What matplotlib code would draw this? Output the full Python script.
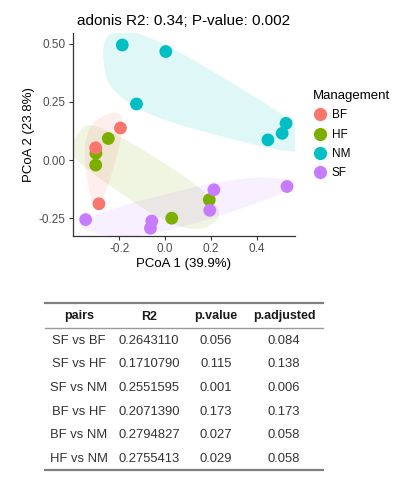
import numpy as np
import matplotlib
matplotlib.use("Agg")
import matplotlib.pyplot as plt
from matplotlib.patches import Polygon

plt.rcParams['font.family'] = ['Liberation Sans', 'DejaVu Sans']

# PCoA scores per management group
groups = ["BF", "HF", "NM", "SF"]
colors = {"BF": "#F8766D", "HF": "#7CAE00", "NM": "#00BFC4", "SF": "#C77CFF"}
bf_x = [-0.195, -0.303, -0.289]
bf_y = [0.138, 0.053, -0.187]
hf_x = [-0.248, -0.302, -0.303, 0.193, 0.029]
hf_y = [0.093, 0.030, -0.021, -0.170, -0.249]
nm_x = [-0.187, 0.003, -0.125, 0.528, 0.511, 0.449]
nm_y = [0.494, 0.466, 0.241, 0.158, 0.115, 0.087]
sf_x = [0.213, 0.532, 0.195, -0.058, -0.064, -0.347]
sf_y = [-0.127, -0.113, -0.215, -0.261, -0.292, -0.255]
coords = {"BF": (bf_x, bf_y), "HF": (hf_x, hf_y), "NM": (nm_x, nm_y), "SF": (sf_x, sf_y)}
draw_order = ["HF", "BF", "NM", "SF"]

title = "adonis R2: 0.34; P-value: 0.002"
xlabel = "PCoA 1 (39.9%)"
ylabel = "PCoA 2 (23.8%)"
xticks = [-0.2, 0.0, 0.2, 0.4]
xticklabels = ["-0.2", "0.0", "0.2", "0.4"]
yticks = [-0.25, 0.0, 0.25, 0.50]
yticklabels = ["-0.25", "0.00", "0.25", "0.50"]

# pairwise adonis table
tab_cols = ["pairs", "R2", "p.value", "p.adjusted"]
pairs = ["SF vs BF", "SF vs HF", "SF vs NM", "BF vs HF", "BF vs NM", "HF vs NM"]
r2 = ["0.2643110", "0.1710790", "0.2551595", "0.2071390", "0.2794827", "0.2755413"]
pval = ["0.056", "0.115", "0.001", "0.173", "0.027", "0.029"]
padj = ["0.084", "0.138", "0.006", "0.173", "0.058", "0.058"]


def convex_hull(pts):
    pts = sorted(map(tuple, pts))
    if len(pts) < 3:
        return pts

    def cross(o, a, b):
        return (a[0] - o[0]) * (b[1] - o[1]) - (a[1] - o[1]) * (b[0] - o[0])

    lower, upper = [], []
    for p in pts:
        while len(lower) >= 2 and cross(lower[-2], lower[-1], p) <= 0:
            lower.pop()
        lower.append(p)
    for p in reversed(pts):
        while len(upper) >= 2 and cross(upper[-2], upper[-1], p) <= 0:
            upper.pop()
        upper.append(p)
    return lower[:-1] + upper[:-1]


def encircle(ax, xs, ys, expand_px=27, s=0.45, n=20):
    # rough imitation of ggalt::geom_encircle in pixel space
    pix = ax.transData.transform(np.column_stack([xs, ys]))
    centre = pix.mean(axis=0)
    hull = np.array(convex_hull(pix))
    d = hull - centre
    d = d / np.linalg.norm(d, axis=1)[:, None]
    hull = hull + d * expand_px
    k = len(hull)
    out = []
    t = np.linspace(0, 1, n)[:, None]
    for i in range(k):
        p0, p1, p2 = hull[i - 1], hull[i], hull[(i + 1) % k]
        a = p1 + s * (p0 - p1)
        b = p1 + s * (p2 - p1)
        out.append((1 - t) ** 2 * a + 2 * (1 - t) * t * p1 + t ** 2 * b)
    out = np.vstack(out)
    return ax.transData.inverted().transform(out)


fig = plt.figure(figsize=(4, 4.8), dpi=100)
ax = fig.add_axes([0.182, 0.508, 0.556, 0.423])
ax.set_xlim(-0.403, 0.568)
ax.set_ylim(-0.326, 0.545)

for g in draw_order:
    xs, ys = coords[g]
    poly = encircle(ax, xs, ys)
    ax.add_patch(Polygon(poly, closed=True, facecolor=colors[g], alpha=0.12,
                         edgecolor="none", zorder=1))
for g in draw_order:
    xs, ys = coords[g]
    ax.scatter(xs, ys, s=85, color=colors[g], edgecolors="none", zorder=3)

for sp in ["top", "right"]:
    ax.spines[sp].set_visible(False)
for sp in ["left", "bottom"]:
    ax.spines[sp].set_color("#333333")
    ax.spines[sp].set_linewidth(0.9)
ax.set_xticks(xticks)
ax.set_xticklabels(xticklabels)
ax.set_yticks(yticks)
ax.set_yticklabels(yticklabels)
ax.tick_params(colors="#333333", labelcolor="#4D4D4D", labelsize=8.5, length=3, width=0.8, pad=2)
ax.set_xlabel(xlabel, fontsize=9.5, labelpad=2)
ax.set_ylabel(ylabel, fontsize=9.5, labelpad=3)
ax.set_title(title, fontsize=11, pad=6)

handles = [plt.Line2D([], [], marker="o", linestyle="none", markersize=9.5,
                      markerfacecolor=colors[g], markeredgecolor="none") for g in groups]
leg = fig.legend(handles, groups, title="Management", loc="upper left",
                 bbox_to_anchor=(0.77, 0.822), frameon=False, fontsize=8.5,
                 title_fontsize=9.5, labelspacing=0.62, handletextpad=0.4,
                 borderaxespad=0, handlelength=1.2)
leg._legend_box.align = "left"

# table in pixel coordinates
tax = fig.add_axes([0, 0, 1, 1])
tax.set_xlim(0, 400)
tax.set_ylim(480, 0)
tax.axis("off")
col_x = [79, 149, 216, 284]
tax.plot([45, 323], [303, 303], color="#7F7F7F", lw=1.6)
tax.plot([45, 323], [328, 328], color="#9A9A9A", lw=1.0)
tax.plot([45, 323], [470, 470], color="#7F7F7F", lw=1.6)
for cx, name in zip(col_x, tab_cols):
    tax.text(cx, 316.5, name, ha="center", va="center", fontsize=9, fontweight="bold", color="#1A1A1A")
for i in range(len(pairs)):
    y = 340.7 + i * 23.7
    for cx, val in zip(col_x, [pairs[i], r2[i], pval[i], padj[i]]):
        tax.text(cx, y, val, ha="center", va="center", fontsize=9.4, color="#333333")

fig.savefig("out.png", dpi=100)
